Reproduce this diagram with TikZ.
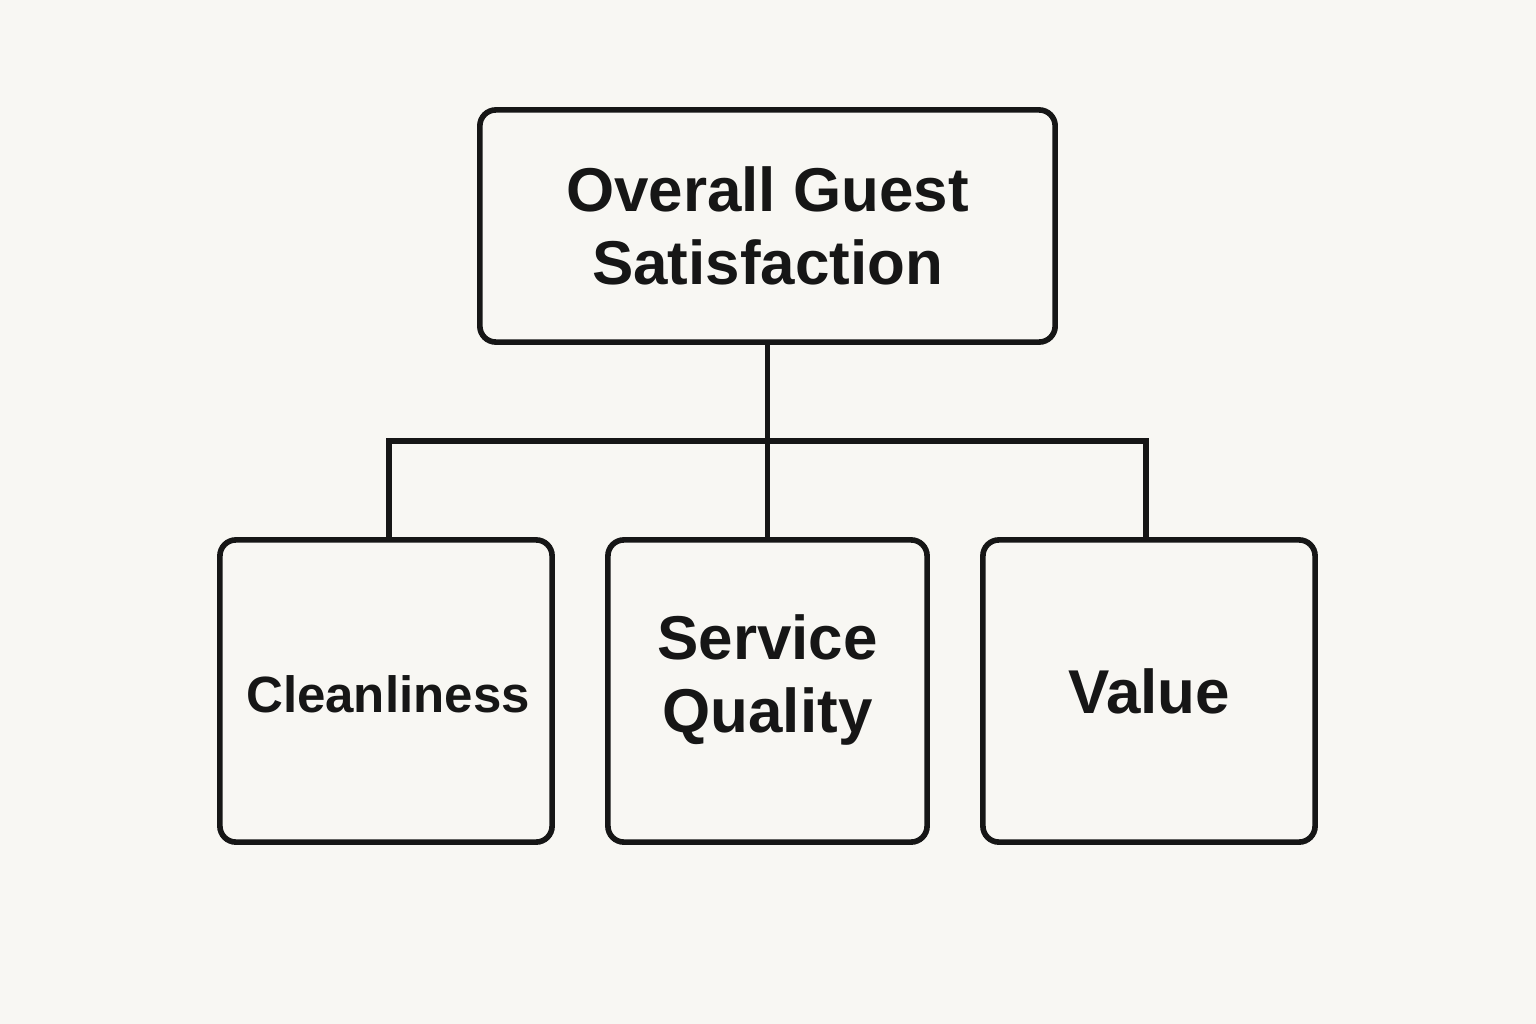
\documentclass[tikz,border=0pt]{standalone}
\usepackage{fontspec}
\setmainfont{Liberation Sans}
\definecolor{bgc}{HTML}{F8F7F3}
\definecolor{ink}{HTML}{161616}
\begin{document}
\begin{tikzpicture}[x=0.01cm,y=-0.01cm,
  box/.style={draw=ink, line width=1.6pt, rounded corners=0.16cm, fill=bgc, align=center, text=ink, inner sep=0pt},
  big/.style={font=\fontsize{17.6}{20.8}\selectfont\bfseries},
  small/.style={font=\fontsize{14.5}{17}\selectfont\bfseries},
  conn/.style={draw=ink, line width=1.6pt}]
\fill[bgc] (0,0) rectangle (1536,1024);
\useasboundingbox (0,0) rectangle (1536,1024);
\node[box, big, minimum width=5.75cm, minimum height=2.32cm] (top) at (767.5,226) {Overall Guest\\Satisfaction};
\node[box, minimum width=3.32cm, minimum height=3.02cm] (cl) at (386,691) {};
\node[small, text=ink] (clt) at (388,694) {Cleanliness};
\node[box, big, minimum width=3.19cm, minimum height=3.02cm] (sq) at (767.5,691) {};
\node[big, text=ink, align=center] (sqt) at (767.5,680) {Service\\Quality};
\node[box, big, minimum width=3.32cm, minimum height=3.02cm] (va) at (1149,691) {Value};
\coordinate (hl) at (389,441);
\coordinate (hr) at (1146,441);
\draw[conn] (top.south) -- (sq.north);
\draw[conn] (cl.north -| hl) -- (hl) -- (hr) -- (va.north -| hr);
\end{tikzpicture}
\end{document}
